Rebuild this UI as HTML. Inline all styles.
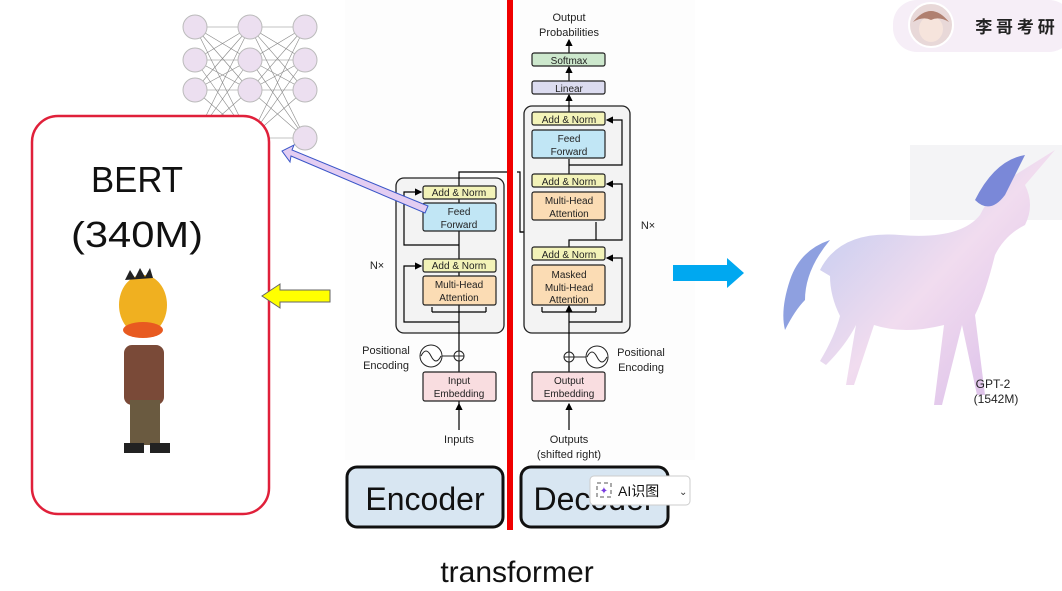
<!DOCTYPE html>
<html><head><meta charset="utf-8"><style>
body{margin:0;width:1062px;height:591px;background:#fff;overflow:hidden;font-family:"Liberation Sans","Noto Sans CJK SC",sans-serif;position:relative}
.a{position:absolute}
</style></head><body>
<svg class="a" style="left:0;top:0" width="1062" height="591" font-family="Liberation Sans, sans-serif">
<defs>
<marker id="ar" markerWidth="6" markerHeight="6" refX="5" refY="3" orient="auto"><path d="M0,0 L6,3 L0,6 z" fill="#000"/></marker>
<linearGradient id="uni" x1="0" x2="1" y1="0" y2="1"><stop offset="0" stop-color="#b7c8f0"/><stop offset="0.5" stop-color="#f1dcef"/><stop offset="1" stop-color="#d6b8e8"/></linearGradient>
</defs>
<rect x="345" y="0" width="350" height="460" fill="#fdfdfd"/>
<!-- neural net -->
<g stroke="#888" stroke-width="0.6">
<g id="l1">
<line x1="195" y1="27" x2="250" y2="27"/><line x1="195" y1="27" x2="250" y2="60"/><line x1="195" y1="27" x2="250" y2="90"/><line x1="195" y1="27" x2="250" y2="138"/>
<line x1="195" y1="60" x2="250" y2="27"/><line x1="195" y1="60" x2="250" y2="60"/><line x1="195" y1="60" x2="250" y2="90"/><line x1="195" y1="60" x2="250" y2="138"/>
<line x1="195" y1="90" x2="250" y2="27"/><line x1="195" y1="90" x2="250" y2="60"/><line x1="195" y1="90" x2="250" y2="90"/><line x1="195" y1="90" x2="250" y2="138"/>
<line x1="195" y1="138" x2="250" y2="27"/><line x1="195" y1="138" x2="250" y2="60"/><line x1="195" y1="138" x2="250" y2="90"/><line x1="195" y1="138" x2="250" y2="138"/>
</g>
<use href="#l1" x="55"/>
</g>
<g fill="#ecdff0" stroke="#bbb">
<circle cx="195" cy="27" r="12"/><circle cx="195" cy="60" r="12"/><circle cx="195" cy="90" r="12"/><circle cx="195" cy="138" r="12"/>
<circle cx="250" cy="27" r="12"/><circle cx="250" cy="60" r="12"/><circle cx="250" cy="90" r="12"/><circle cx="250" cy="138" r="12"/>
<circle cx="305" cy="27" r="12"/><circle cx="305" cy="60" r="12"/><circle cx="305" cy="90" r="12"/><circle cx="305" cy="138" r="12"/>
</g>
<!-- BERT box -->
<rect x="32" y="116" width="237" height="398" rx="26" fill="#fff" stroke="#e0203a" stroke-width="2.5"/>
<text x="137" y="192" font-size="36" text-anchor="middle" fill="#111" textLength="92" lengthAdjust="spacingAndGlyphs">BERT</text>
<text x="137" y="247" font-size="36" text-anchor="middle" fill="#111" textLength="132" lengthAdjust="spacingAndGlyphs">(340M)</text>
<ellipse cx="143" cy="305" rx="24" ry="30" fill="#f0b020"/>
<ellipse cx="143" cy="330" rx="20" ry="8" fill="#e85a20"/>
<path d="M125 280 l5 -10 l5 8 l5 -10 l5 9 l5 -9 l3 10z" fill="#222"/>
<rect x="124" y="345" width="40" height="60" rx="8" fill="#7a4a38"/>
<rect x="130" y="400" width="30" height="45" fill="#6a5a40"/>
<rect x="124" y="443" width="20" height="10" fill="#222"/><rect x="150" y="443" width="20" height="10" fill="#222"/>
<path d="M330 290 L280 290 L280 284 L262 296 L280 308 L280 302 L330 302 z" fill="#ffff00" stroke="#666" stroke-width="1"/>
<!-- Encoder -->
<rect x="396" y="178" width="108" height="155" rx="8" fill="#f3f3f3" stroke="#222" stroke-width="1.3"/>
<g stroke="#000" stroke-width="1.2" fill="none">
<line x1="459" y1="404" x2="459" y2="193" marker-end="url(#ar)"/>
<path d="M459 322 H404 V266 H421" marker-end="url(#ar)"/>
<path d="M459 245 H404 V192 H421" marker-end="url(#ar)"/>
<path d="M432 312 V307 M486 312 V307"/>
<path d="M432 312 H486"/>
<line x1="459" y1="430" x2="459" y2="404" marker-end="url(#ar)"/>
<path d="M459 186 V172 H512 M517 172 H520 V232 H541 V224" />
<path d="M520 232 H569 V224"/>
</g>
<g stroke="#222" stroke-width="1.2">
<rect x="423" y="186" width="73" height="13" rx="2" fill="#f3f3b8"/>
<rect x="423" y="203" width="73" height="28" rx="2" fill="#c1e6f5"/>
<rect x="423" y="259" width="73" height="13" rx="2" fill="#f3f3b8"/>
<rect x="423" y="276" width="73" height="29" rx="2" fill="#fbdcb4"/>
<rect x="423" y="372" width="73" height="29" rx="2" fill="#f9dde0"/>
</g>
<g font-size="10" fill="#222" text-anchor="middle">
<text x="459" y="196">Add &amp; Norm</text>
<text x="459" y="215">Feed</text><text x="459" y="228">Forward</text>
<text x="459" y="269">Add &amp; Norm</text>
<text x="459" y="288">Multi-Head</text><text x="459" y="301">Attention</text>
<text x="459" y="384">Input</text><text x="459" y="397">Embedding</text>
<text x="459" y="443" font-size="11">Inputs</text>
<text x="377" y="269" font-size="11">N×</text>
<text x="386" y="354" font-size="11">Positional</text><text x="386" y="369" font-size="11">Encoding</text>
</g>
<circle cx="431" cy="356" r="11" fill="#fff" stroke="#222"/>
<path d="M421 356 q5 -10 10 0 t10 0" fill="none" stroke="#222"/>
<line x1="442" y1="356" x2="454" y2="356" stroke="#222"/>
<circle cx="459" cy="356" r="5" fill="#fff" stroke="#222"/>
<path d="M454 356 H464 M459 351 V361" stroke="#222"/>
<!-- purple arrow (on top) -->
<path d="M428 206 L292 150 L294 145 L282 151 L290 162 L291 156 L425 213 z" fill="#e3cdf2" stroke="#3a56c8" stroke-width="1"/>
<!-- Decoder -->
<rect x="524" y="106" width="106" height="227" rx="8" fill="#f3f3f3" stroke="#222" stroke-width="1.3"/>
<g stroke="#000" stroke-width="1.2" fill="none">
<line x1="569" y1="430" x2="569" y2="404" marker-end="url(#ar)"/>
<line x1="569" y1="372" x2="569" y2="306" marker-end="url(#ar)"/>
<path d="M569 322 H622 V258 H607" marker-end="url(#ar)"/>
<path d="M542 312 H596 M542 312 V307 M596 312 V307"/>
<path d="M569 260 V240 H622 V184 H607" marker-end="url(#ar)"/>
<path d="M596 240 V222"/>
<path d="M569 174 V159"/>
<path d="M569 165 H622 V120 H607" marker-end="url(#ar)"/>
<line x1="569" y1="112" x2="569" y2="95" marker-end="url(#ar)"/>
<line x1="569" y1="81" x2="569" y2="67" marker-end="url(#ar)"/>
<line x1="569" y1="53" x2="569" y2="40" marker-end="url(#ar)"/>
</g>
<g stroke="#222" stroke-width="1.2">
<rect x="532" y="112" width="73" height="13" rx="2" fill="#f3f3b8"/>
<rect x="532" y="130" width="73" height="28" rx="2" fill="#c1e6f5"/>
<rect x="532" y="174" width="73" height="13" rx="2" fill="#f3f3b8"/>
<rect x="532" y="192" width="73" height="28" rx="2" fill="#fbdcb4"/>
<rect x="532" y="247" width="73" height="13" rx="2" fill="#f3f3b8"/>
<rect x="532" y="265" width="73" height="40" rx="2" fill="#fbdcb4"/>
<rect x="532" y="372" width="73" height="29" rx="2" fill="#f9dde0"/>
<rect x="532" y="81" width="73" height="13" rx="2" fill="#dcdcf0"/>
<rect x="532" y="53" width="73" height="13" rx="2" fill="#cde8cd"/>
</g>
<g font-size="10" fill="#222" text-anchor="middle">
<text x="569" y="64">Softmax</text>
<text x="569" y="92">Linear</text>
<text x="569" y="123">Add &amp; Norm</text>
<text x="569" y="142">Feed</text><text x="569" y="155">Forward</text>
<text x="569" y="185">Add &amp; Norm</text>
<text x="569" y="204">Multi-Head</text><text x="569" y="217">Attention</text>
<text x="569" y="258">Add &amp; Norm</text>
<text x="569" y="278">Masked</text><text x="569" y="291">Multi-Head</text><text x="569" y="303">Attention</text>
<text x="569" y="384">Output</text><text x="569" y="397">Embedding</text>
<text x="569" y="443" font-size="11">Outputs</text><text x="569" y="458" font-size="11">(shifted right)</text>
<text x="569" y="21" font-size="11">Output</text><text x="569" y="36" font-size="11">Probabilities</text>
<text x="648" y="229" font-size="11">N×</text>
<text x="641" y="356" font-size="11">Positional</text><text x="641" y="371" font-size="11">Encoding</text>
</g>
<circle cx="597" cy="357" r="11" fill="#fff" stroke="#222"/>
<path d="M587 357 q5 -10 10 0 t10 0" fill="none" stroke="#222"/>
<line x1="574" y1="357" x2="586" y2="357" stroke="#222"/>
<circle cx="569" cy="357" r="5" fill="#fff" stroke="#222"/>
<path d="M564 357 H574 M569 352 V362" stroke="#222"/>
<rect x="507" y="0" width="6" height="530" fill="#f00000"/>
<rect x="347" y="467" width="156" height="60" rx="10" fill="#d8e6f2" stroke="#111" stroke-width="3"/>
<text x="425" y="510" font-size="32" text-anchor="middle" fill="#111">Encoder</text>
<rect x="521" y="467" width="147" height="60" rx="10" fill="#d8e6f2" stroke="#111" stroke-width="3"/>
<text x="594" y="510" font-size="32" text-anchor="middle" fill="#111">Decoder</text>
<rect x="590" y="476" width="100" height="29" rx="4" fill="#fff" stroke="#ccc"/>
<rect x="597" y="483" width="14" height="14" fill="none" stroke="#555" stroke-dasharray="4 3"/>
<text x="604" y="494" font-size="10" fill="#7a3ee0" text-anchor="middle">✦</text>
<text x="618" y="496" font-size="14" fill="#111" font-family="Liberation Sans, Noto Sans CJK SC, sans-serif">AI识图</text>
<text x="679" y="495" font-size="10" fill="#333">⌄</text>
<text x="517" y="582" font-size="30" text-anchor="middle" fill="#111">transformer</text>
<path d="M673 265 H727 V258 L744 273 L727 288 V281 H673 z" fill="#00a8f0"/>
<rect x="893" y="0" width="180" height="52" rx="24" fill="#f6eef7"/>
<circle cx="931" cy="25" r="22" fill="#e8d8d8" stroke="#fff" stroke-width="2"/>
<ellipse cx="931" cy="29" rx="12" ry="13" fill="#f6e4dc"/>
<path d="M913 22 q18 -22 36 0 q-10 -6 -18 -2 q-8 -4 -18 2z" fill="#b08070"/>
<text x="1015" y="33" font-size="17" font-weight="bold" text-anchor="middle" fill="#222" font-family="Noto Sans CJK SC, sans-serif">李 哥 考 研</text>
<rect x="910" y="145" width="152" height="75" fill="#f4f4f6"/>
<path d="M820 270 q20 -40 80 -35 q60 5 80 -20 q15 -30 35 -40 l40 -25 l-30 35 q10 20 0 40 q-20 10 -30 30 q-10 40 -20 60 l10 80 l-8 0 l-15 -70 l-20 80 l-8 0 l10 -80 q-40 10 -70 0 l-20 60 l-8 0 l10 -60 q-10 20 -30 40 l-6 -4 q15 -25 20 -45 q-10 -20 -10 -40z" fill="url(#uni)"/>
<path d="M830 240 q-30 10 -40 40 q-10 30 -5 50 q10 -20 20 -30 q0 -30 25 -60z" fill="#8ea0e0"/>
<path d="M975 200 q20 -40 50 -45 q-10 20 -20 40 q-15 20 -30 5z" fill="#7a88d8"/>
<text x="993" y="388" font-size="12" text-anchor="middle" fill="#222">GPT-2</text>
<text x="996" y="403" font-size="12" text-anchor="middle" fill="#222">(1542M)</text>
</svg>
</body></html>
